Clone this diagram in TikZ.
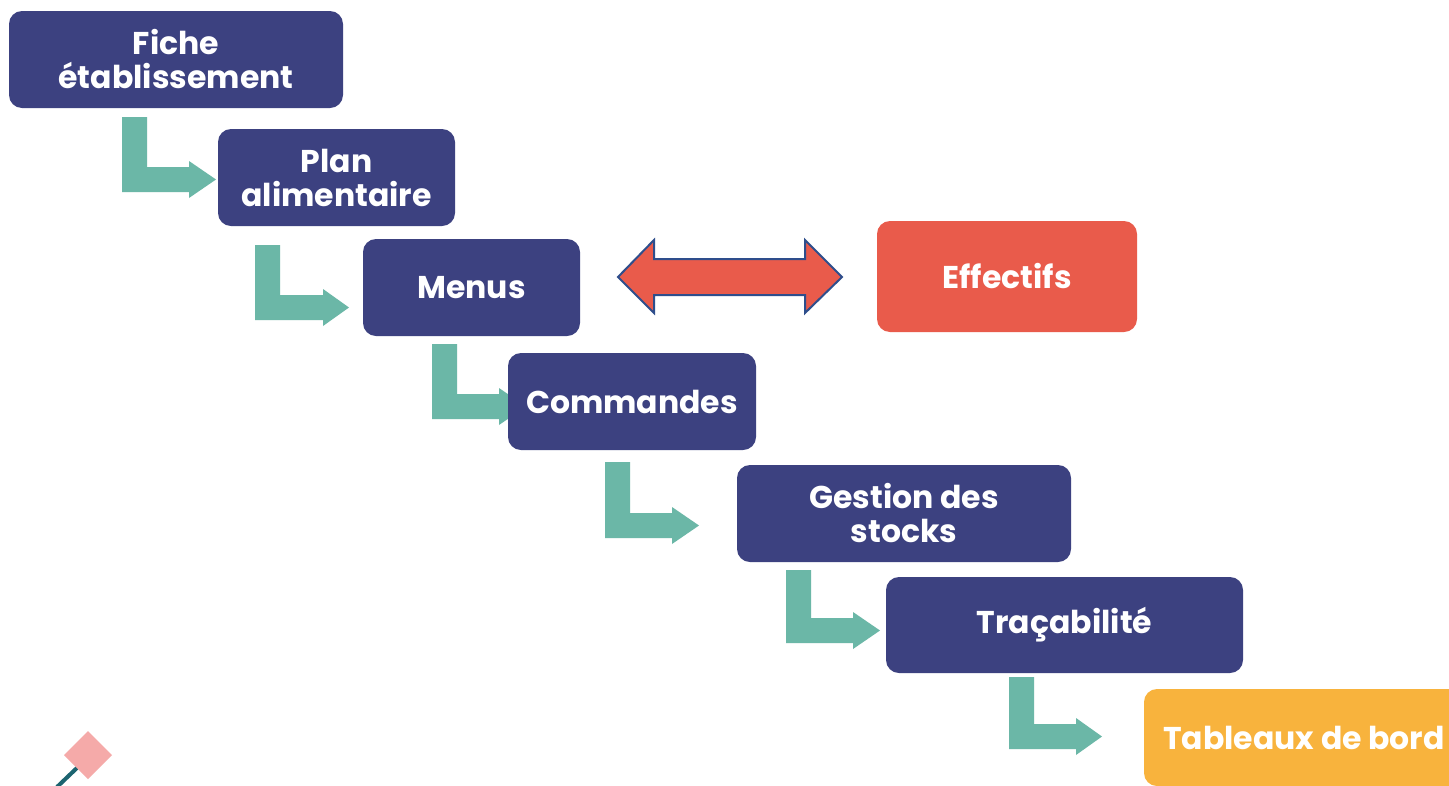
\documentclass[tikz,border=0pt]{standalone}
\usepackage{fontspec}
\setmainfont{Poppins}
\definecolor{navy}{HTML}{3C4180}
\definecolor{teal}{HTML}{6BB7A7}
\definecolor{redbox}{HTML}{E95B4B}
\definecolor{orangebox}{HTML}{F8B33D}
\definecolor{pinkd}{HTML}{F5AAA9}
\definecolor{darkteal}{HTML}{1C6470}
\definecolor{arrowline}{HTML}{2E4E8C}
\newcommand\bentarr[5]{%
  \fill[teal] (#1,#2) -- (#1+25,#2) -- (#1+25,#3) -- (#4,#3) -- (#4,#3-6) -- (#5,#3+12.5) -- (#4,#3+31) -- (#4,#3+25) -- (#1,#3+25) -- cycle;}
\tikzset{
  box/.style={rectangle, rounded corners=13pt, fill=navy, text=white, font=\fontsize{31.5}{34}\selectfont\bfseries, align=center, inner sep=0pt, minimum height=97pt},
}
\begin{document}
\begin{tikzpicture}[x=1pt,y=-1pt]
\useasboundingbox (0,0) rectangle (1449,785);
\clip (0,0) rectangle (1449,785);
\fill[white] (0,0) rectangle (1449,785);
% bent arrows
\bentarr{122}{117}{167}{189}{216}
\bentarr{255}{245}{295}{323}{349}
\bentarr{432}{344}{394}{499}{526}
\bentarr{605}{462}{513}{672}{699}
\bentarr{786}{570}{618}{853}{880}
\bentarr{1009}{677}{724}{1076}{1102}
% boxes
\node[box, minimum width=334pt] (fiche) at (176,59.5) {Fiche\\établissement};
\node[box, minimum width=237pt] (plan) at (336.5,177.5) {Plan\\alimentaire};
\node[box, minimum width=217pt] (menus) at (471.5,287.5) {Menus};
\node[box, minimum width=248pt] (cmd) at (632,401.5) {Commandes};
\node[box, minimum width=334pt] (stock) at (904,513.5) {Gestion des\\stocks};
\node[box, minimum width=357pt, minimum height=96pt] (trac) at (1064.5,625) {Traçabilité};
\node[box, fill=orangebox, minimum width=320pt] (tab) at (1304,737.5) {Tableaux de bord};
\node[box, fill=redbox, minimum width=260pt, minimum height=111pt] (eff) at (1007,276.5) {Effectifs};
% double arrow
\filldraw[fill=redbox, draw=arrowline, line width=2pt, line join=miter]
  (618,277) -- (654,240) -- (654,259) -- (805,259) -- (805,240) -- (842,277)
  -- (805,313) -- (805,295) -- (654,295) -- (654,313) -- cycle;
% decoration bottom-left
\draw[darkteal, line width=4pt] (57,787) -- (80,765);
\fill[pinkd] (88,731) -- (112,755) -- (88,779) -- (64,755) -- cycle;
\end{tikzpicture}
\end{document}
